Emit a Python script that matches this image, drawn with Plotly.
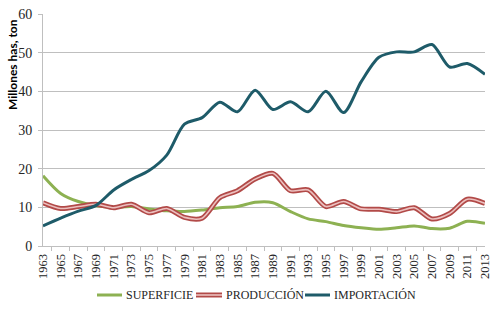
import plotly.graph_objects as go

years = [str(y) for y in range(1963, 2014, 2)]
superficie = [18.2, 13.6, 11.5, 10.4, 10.0, 10.2, 9.6, 9.1, 8.9, 9.3, 9.9, 10.2, 11.3,
              11.2, 8.9, 7.0, 6.3, 5.3, 4.7, 4.3, 4.7, 5.2, 4.5, 4.6, 6.4, 5.9]
produccion = [11.2, 9.7, 10.2, 10.8, 9.9, 10.8, 8.6, 9.7, 7.4, 7.2, 12.5, 14.3, 17.3,
              18.8, 14.3, 14.5, 10.2, 11.5, 9.6, 9.5, 8.9, 9.9, 7.0, 8.4, 12.1, 11.0]
importacion = [5.2, 7.2, 9.0, 10.5, 14.5, 17.2, 19.5, 23.5, 31.5, 33.2, 37.2, 34.7, 40.3,
               35.3, 37.3, 34.7, 40.0, 34.5, 42.5, 48.8, 50.2, 50.2, 52.1, 46.3, 47.2, 44.4]

GREEN, RED, PINK, TEAL = "#8db152", "#b24a48", "#ecc0bf", "#1e5b69"

fig = go.Figure()
fig.add_trace(go.Scatter(x=years, y=superficie, mode="lines", name="SUPERFICIE",
                         line=dict(color=GREEN, width=3, shape="spline", smoothing=0.8)))
fig.add_trace(go.Scatter(x=years, y=produccion, mode="lines", name="PRODUCCIÓN",
                         line=dict(color=RED, width=5, shape="spline", smoothing=0.8)))
fig.add_trace(go.Scatter(x=years, y=produccion, mode="lines", name="PRODUCCIÓN",
                         hoverinfo="skip",
                         line=dict(color=PINK, width=1.6, shape="spline", smoothing=0.8)))
fig.add_trace(go.Scatter(x=years, y=importacion, mode="lines", name="IMPORTACIÓN",
                         line=dict(color=TEAL, width=3, shape="spline", smoothing=0.8)))

# custom legend (pixel layout converted to paper coords)
L, W, T, H = 43, 442, 14, 232
def px(x):
    return (x - L) / W
def py(y):
    return (T + H - y) / H

legend_items = [("SUPERFICIE", 97, 122, 124, [(GREEN, 3)]),
                ("PRODUCCIÓN", 196, 222, 224, [(RED, 5), (PINK, 1.6)]),
                ("IMPORTACIÓN", 305, 330, 332, [(TEAL, 3)])]
ly = 295
shapes, annotations = [], []
for label, x0, x1, xt, styles in legend_items:
    for col, w in styles:
        shapes.append(dict(type="line", xref="paper", yref="paper",
                           x0=px(x0), x1=px(x1), y0=py(ly), y1=py(ly),
                           line=dict(color=col, width=w)))
    annotations.append(dict(text=label, xref="paper", yref="paper", x=px(xt), y=py(ly),
                            xanchor="left", yanchor="middle", showarrow=False,
                            font=dict(family="Liberation Serif", size=12, color="#262626")))

annotations.append(dict(text="<b>Millones has, ton</b>", xref="paper", yref="paper",
                        x=px(12), y=py(65), xanchor="center", yanchor="middle",
                        textangle=-90, showarrow=False,
                        font=dict(family="Lato", size=12, color="#000000")))

fig.update_layout(
    width=500, height=310,
    margin=dict(l=L, r=500 - L - W, t=T, b=310 - T - H, autoexpand=False),
    paper_bgcolor="white", plot_bgcolor="white",
    font=dict(family="Liberation Serif", size=12, color="#262626"),
    showlegend=False,
    xaxis=dict(type="category", tickson="boundaries", ticks="outside", ticklen=4,
               tickcolor="#bfbfbf", showline=True, linecolor="#bfbfbf", linewidth=1,
               showgrid=False, tickangle=-90, tickfont=dict(size=12.5), automargin=False,
               ticklabelstandoff=2),
    yaxis=dict(range=[0, 60], dtick=10, ticks="outside", ticklen=4, tickcolor="#bfbfbf",
               showline=True, linecolor="#bfbfbf", linewidth=1,
               showgrid=True, gridcolor="#bfbfbf", gridwidth=1, zeroline=False,
               tickfont=dict(size=14), automargin=False, ticklabelstandoff=3),
    shapes=shapes,
    annotations=annotations,
)

fig.write_html("out.html")
